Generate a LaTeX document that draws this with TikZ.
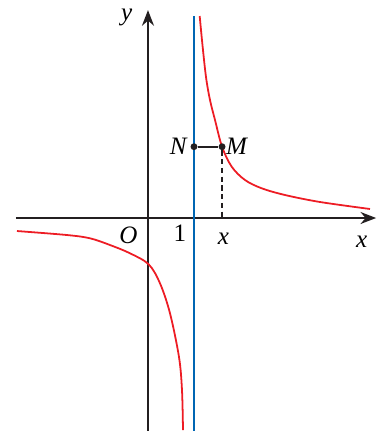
\documentclass[tikz,border=0pt]{standalone}
\usepackage{fontspec}
\setmainfont{Liberation Serif}
\usetikzlibrary{arrows.meta,positioning}
\definecolor{curve}{RGB}{237,28,36}
\definecolor{asym}{RGB}{0,102,179}
\definecolor{axis}{RGB}{35,31,32}

\begin{document}
\begin{tikzpicture}[
      font=\fontsize{15.5}{17}\selectfont,
      >={Stealth[length=3.4mm,width=2.6mm,inset=1.1mm]},
      axisline/.style={draw=axis, line width=1.2pt, ->},
      branch/.style={draw=curve, line width=1.1pt},
      dot/.style={circle, fill=axis, inner sep=0pt, minimum size=1.5mm},
      lbl/.style={inner sep=0pt, font=\fontsize{15.5}{17}\selectfont\itshape},
]
\useasboundingbox (-3.217,-4.63) rectangle (5.043,4.739);

% axes
\coordinate (x_start) at (-2.87,0);
\coordinate (x_end) at (4.96,0);
\coordinate (y_start) at (0,-4.63);
\coordinate (y_end) at (0,4.52);
\draw[axisline] (x_start) -- (x_end);
\draw[axisline] (y_start) -- (y_end);

% asymptote x = 1
\coordinate (asym_bottom) at (1,-4.63);
\coordinate (asym_top) at (1,4.39);
\draw[draw=asym, line width=1.1pt] (asym_bottom) -- (asym_top);

% the two branches
\draw[branch] plot[smooth, tension=0.55] coordinates {
  (1.124,4.391) (1.180,3.804) (1.261,3.065) (1.348,2.565) (1.457,2.13)
  (1.61,1.55) (1.82,1.115) (2.109,0.826) (2.472,0.646) (2.978,0.5)
  (3.739,0.348) (4.826,0.196)};
\draw[branch] plot[smooth, tension=0.55] coordinates {
  (-2.848,-0.283) (-1.761,-0.370) (-1.261,-0.441) (-0.826,-0.587)
  (-0.391,-0.767) (0.015,-1.007) (0.261,-1.42) (0.478,-2.07)
  (0.674,-3.022) (0.739,-3.739) (0.761,-4.609)};

% points M, N
\node[dot] (M) at (1.61,1.55) {};
\node[dot] (N) at (1,1.55) {};
\coordinate (M_foot) at (1.61,0);
\draw[axis, line width=1.1pt] (N) -- (M);
\draw[axis, line width=1.1pt, dash pattern=on 3.2pt off 2.2pt] (M) -- (M_foot);

% labels
\node[lbl] (lbl_N) at (0.659,1.55) {N};
\node[lbl] (lbl_M) at (1.928,1.55) {M};
\node[lbl] (lbl_y) at (-0.463,4.36) {y};
\node[lbl] (lbl_O) at (-0.428,-0.37) {O};
\node[inner sep=0pt] (lbl_one) at (0.696,-0.333) {1};
\node[lbl] (lbl_xM) at (1.638,-0.44) {x};
\node[lbl] (lbl_x) at (4.645,-0.515) {x};

\end{tikzpicture}
\end{document}
